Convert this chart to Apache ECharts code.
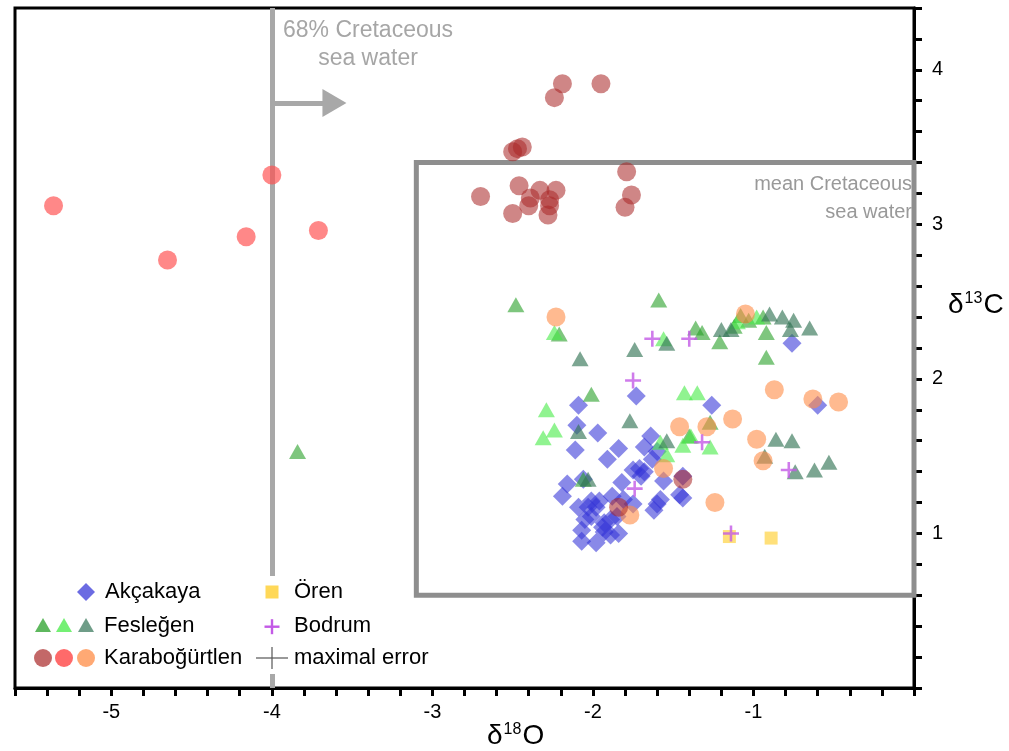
<!DOCTYPE html>
<html>
<head>
<meta charset="utf-8">
<title>d18O vs d13C</title>
<script src="https://cdn.jsdelivr.net/npm/echarts@6/dist/echarts.min.js"></script>
<style>
  html, body { margin: 0; padding: 0; background: #fff; }
  #chart { width: 1009px; height: 751px; }
</style>
</head>
<body>
<div id="chart"></div>
<script>
// δ18O, δ13C pairs
var akcakaya = [
  [-1.73, 1.89], [-2.09, 1.83], [-1.26, 1.83], [-0.76, 2.23], [-0.60, 1.83],
  [-2.10, 1.70], [-1.97, 1.65], [-2.11, 1.54], [-1.84, 1.55], [-1.91, 1.48],
  [-1.64, 1.63], [-1.68, 1.56], [-1.60, 1.53], [-1.63, 1.48], [-1.75, 1.41],
  [-1.71, 1.42], [-1.68, 1.40], [-1.70, 1.37], [-1.82, 1.33], [-1.56, 1.34],
  [-1.44, 1.37], [-2.16, 1.32], [-2.19, 1.24], [-2.06, 1.35], [-1.46, 1.25],
  [-1.44, 1.23], [-1.58, 1.22], [-1.62, 1.15], [-2.01, 1.21], [-1.96, 1.21],
  [-1.88, 1.24], [-1.98, 1.17], [-2.03, 1.17], [-1.81, 1.22], [-1.75, 1.19],
  [-2.05, 1.09], [-2.01, 1.11], [-1.89, 1.09], [-1.85, 1.11], [-2.07, 1.02],
  [-2.07, 0.95], [-1.98, 0.94], [-1.93, 1.01], [-1.89, 0.99], [-1.84, 1.00],
  [-1.93, 1.07], [-1.60, 1.19], [-2.09, 1.17], [-1.94, 1.04]
];
var feslegenA = [
  [-2.48, 2.48], [-1.59, 2.51], [-2.21, 2.29], [-2.01, 1.90], [-1.32, 2.30],
  [-1.36, 2.33], [-1.21, 2.24], [-1.12, 2.34], [-1.08, 2.41], [-1.03, 2.38],
  [-0.94, 2.40], [-0.92, 2.30], [-0.92, 2.14], [-1.27, 1.72], [-3.84, 1.53],
  [-2.06, 1.35], [-1.40, 1.63]
];
var feslegenB = [
  [-2.29, 1.80], [-2.24, 1.67], [-2.31, 1.62], [-1.43, 1.91], [-1.35, 1.91],
  [-2.24, 2.30], [-1.56, 2.26], [-1.54, 1.51], [-1.44, 1.57], [-1.39, 1.63],
  [-1.27, 1.56], [-1.58, 1.59], [-1.10, 2.37], [-0.98, 2.40]
];
var feslegenC = [
  [-2.08, 2.13], [-1.74, 2.19], [-1.54, 2.23], [-1.77, 1.73], [-1.20, 2.32],
  [-0.90, 2.42], [-0.82, 2.40], [-0.75, 2.38], [-0.77, 2.32], [-0.65, 2.33],
  [-2.09, 1.66], [-1.54, 1.60], [-2.03, 1.35], [-0.86, 1.61], [-0.76, 1.60],
  [-0.93, 1.50], [-0.74, 1.40], [-0.62, 1.41], [-0.53, 1.46], [-1.14, 2.32]
];
var karaDark = [
  [-2.19, 3.91], [-1.95, 3.91], [-2.24, 3.82], [-2.50, 3.47], [-2.44, 3.50],
  [-2.47, 3.49], [-1.79, 3.34], [-2.70, 3.18], [-2.46, 3.25], [-2.50, 3.07],
  [-2.33, 3.22], [-2.23, 3.22], [-2.39, 3.17], [-2.40, 3.12], [-2.27, 3.16],
  [-2.27, 3.12], [-2.28, 3.06], [-1.76, 3.19], [-1.80, 3.11], [-1.84, 1.17],
  [-1.44, 1.35]
];
var karaRed = [
  [-5.36, 3.12], [-4.65, 2.77], [-4.16, 2.92], [-4.00, 3.32], [-3.71, 2.96]
];
var karaOrange = [
  [-2.23, 2.40], [-1.05, 2.42], [-0.87, 1.93], [-0.63, 1.87], [-0.47, 1.85],
  [-1.46, 1.69], [-1.29, 1.69], [-1.13, 1.74], [-0.98, 1.61], [-0.94, 1.47],
  [-1.56, 1.42], [-1.24, 1.20], [-1.77, 1.12]
];
var bodrum = [
  [-1.63, 2.26], [-1.40, 2.26], [-1.75, 1.99], [-1.32, 1.59], [-0.78, 1.41],
  [-1.14, 1.00], [-1.74, 1.29]
];
var oren = [
  [-1.15, 0.98], [-0.89, 0.97]
];

// reference lines / box
var seaWater68 = -4;
var meanBoxX = [-3.1, 0];
var meanBoxY = [0.6, 3.4];
var arrowFrom = [-4, 3.785];
var arrowTo = [-3.61, 3.785];

var xTickLabels = ['-5', '-4', '-3', '-2', '-1'];
var yTickLabels = ['1', '2', '3', '4'];

var FONT = 'Arial, "Liberation Sans", sans-serif';
var plusPath = 'path://M4.2,0H5.8V4.2H10V5.8H5.8V10H4.2V5.8H0V4.2H4.2Z';

var chart = echarts.init(document.getElementById('chart'));

function scatter(name, data, symbol, size, color, z) {
  return {
    name: name,
    type: 'scatter',
    data: data,
    symbol: symbol,
    symbolSize: size,
    z: z,
    itemStyle: { color: color },
    emphasis: { disabled: true }
  };
}

var series = [
  scatter('Akçakaya', akcakaya, 'diamond', 19, 'rgba(50,50,215,0.72)', 3),
  scatter('Fesleğen 1', feslegenA, 'triangle', [17, 15], 'rgba(40,160,40,0.75)', 4),
  scatter('Fesleğen 2', feslegenB, 'triangle', [17, 15], 'rgba(70,235,70,0.75)', 4),
  scatter('Fesleğen 3', feslegenC, 'triangle', [17, 15], 'rgba(50,115,85,0.8)', 4),
  scatter('Karaboğürtlen 3', karaOrange, 'circle', 19, 'rgba(255,140,70,0.75)', 5),
  scatter('Karaboğürtlen 1', karaDark, 'circle', 19, 'rgba(170,40,40,0.7)', 5),
  scatter('Karaboğürtlen 2', karaRed, 'circle', 19, 'rgba(255,80,80,0.85)', 5),
  scatter('Ören', oren, 'rect', 13, 'rgba(255,212,70,0.9)', 6),
  scatter('Bodrum', bodrum, plusPath, 16, '#c35ae6', 7)
];

// gray reference line, arrow and the mean sea water box
series.push({
  type: 'line',
  data: [],
  z: 1,
  markLine: {
    silent: true,
    symbol: ['none', 'none'],
    label: { show: false },
    lineStyle: { color: '#a8a8a8', width: 5, type: 'solid' },
    data: [{ xAxis: seaWater68 }]
  },
  markArea: {
    silent: true,
    itemStyle: { color: 'rgba(0,0,0,0)', borderColor: '#8e8e8e', borderWidth: 5 },
    data: [[{ coord: [meanBoxX[0], meanBoxY[1]] }, { coord: [meanBoxX[1], meanBoxY[0]] }]]
  }
});
series.push({
  type: 'line',
  data: [],
  z: 1,
  markLine: {
    silent: true,
    symbol: ['none', 'triangle'],
    symbolSize: [28, 24],
    label: { show: false },
    lineStyle: { color: '#a8a8a8', width: 5, type: 'solid' },
    itemStyle: { color: '#a8a8a8' },
    data: [[{ coord: arrowFrom }, { coord: arrowTo }]]
  }
});

var legendFont = '22px ' + FONT;
var graphic = [
  // legend background: hides the -4 line behind the legend
  { type: 'rect', z: 100, shape: { x: 20, y: 576, width: 388, height: 98 }, style: { fill: '#fff' } },
  // Akçakaya
  { type: 'polygon', z: 101, shape: { points: [[86, 583], [95, 592], [86, 601], [77, 592]] }, style: { fill: 'rgba(50,50,215,0.72)' } },
  { type: 'text', z: 101, style: { text: 'Akçakaya', x: 105, y: 592, font: legendFont, fill: '#000', verticalAlign: 'middle' } },
  // Ören
  { type: 'rect', z: 101, shape: { x: 265.5, y: 585.5, width: 13, height: 13 }, style: { fill: 'rgba(255,212,70,0.9)' } },
  { type: 'text', z: 101, style: { text: 'Ören', x: 294, y: 592, font: legendFont, fill: '#000', verticalAlign: 'middle' } },
  // Fesleğen
  { type: 'polygon', z: 101, shape: { points: [[43, 618], [51, 632], [35, 632]] }, style: { fill: 'rgba(40,160,40,0.75)' } },
  { type: 'polygon', z: 101, shape: { points: [[64, 618], [72, 632], [56, 632]] }, style: { fill: 'rgba(70,235,70,0.75)' } },
  { type: 'polygon', z: 101, shape: { points: [[86, 618], [94, 632], [78, 632]] }, style: { fill: 'rgba(50,115,85,0.7)' } },
  { type: 'text', z: 101, style: { text: 'Fesleğen', x: 104, y: 626, font: legendFont, fill: '#000', verticalAlign: 'middle' } },
  // Bodrum
  { type: 'rect', z: 101, shape: { x: 264.5, y: 625.5, width: 15, height: 2.4 }, style: { fill: '#c35ae6' } },
  { type: 'rect', z: 101, shape: { x: 270.8, y: 619.2, width: 2.4, height: 15 }, style: { fill: '#c35ae6' } },
  { type: 'text', z: 101, style: { text: 'Bodrum', x: 294, y: 626, font: legendFont, fill: '#000', verticalAlign: 'middle' } },
  // Karaboğürtlen
  { type: 'circle', z: 101, shape: { cx: 43, cy: 658, r: 9 }, style: { fill: 'rgba(170,40,40,0.7)' } },
  { type: 'circle', z: 101, shape: { cx: 64, cy: 658, r: 9 }, style: { fill: 'rgba(255,80,80,0.85)' } },
  { type: 'circle', z: 101, shape: { cx: 86, cy: 658, r: 9 }, style: { fill: 'rgba(255,140,70,0.75)' } },
  { type: 'text', z: 101, style: { text: 'Karaboğürtlen', x: 104, y: 658, font: legendFont, fill: '#000', verticalAlign: 'middle' } },
  // maximal error
  { type: 'line', z: 101, shape: { x1: 256, y1: 658, x2: 288, y2: 658 }, style: { stroke: '#555', lineWidth: 1.2 } },
  { type: 'line', z: 101, shape: { x1: 272, y1: 647, x2: 272, y2: 669 }, style: { stroke: '#555', lineWidth: 1.2 } },
  { type: 'text', z: 101, style: { text: 'maximal error', x: 294, y: 658, font: legendFont, fill: '#000', verticalAlign: 'middle' } },
  // annotations
  { type: 'text', z: 50, style: { text: '68% Cretaceous\nsea water', x: 368, y: 17, font: '23px ' + FONT, fill: '#a6a6a6', align: 'center', lineHeight: 28 } },
  { type: 'text', z: 50, style: { text: 'mean Cretaceous\nsea water', x: 912, y: 170, font: '20px ' + FONT, fill: '#999', align: 'right', lineHeight: 28 } },
  // axis titles
  { type: 'text', z: 50, style: { text: 'δ{s|18}O', x: 487, y: 722, font: '28px ' + FONT, fill: '#000',
      rich: { s: { fontSize: 16, fontFamily: FONT, verticalAlign: 'top', padding: [0, 1, 12, 1] } } } },
  { type: 'text', z: 50, style: { text: 'δ{s|13}C', x: 948, y: 291, font: '28px ' + FONT, fill: '#000',
      rich: { s: { fontSize: 16, fontFamily: FONT, verticalAlign: 'top', padding: [0, 1, 12, 1] } } } }
];

var option = {
  animation: false,
  backgroundColor: '#fff',
  textStyle: { fontFamily: FONT },
  grid: {
    left: 15, right: 95, top: 8, bottom: 63,
    show: true, borderColor: '#000', borderWidth: 3, backgroundColor: 'transparent'
  },
  xAxis: {
    type: 'value',
    min: -5.6, max: 0, interval: 0.2,
    axisLine: { show: true, onZero: false, lineStyle: { color: '#000', width: 3 } },
    axisTick: { show: true, length: 8, lineStyle: { color: '#000', width: 3 } },
    axisLabel: {
      color: '#000', fontSize: 20, margin: 14,
      formatter: function (v) {
        var s = String(Math.round(v * 10) / 10);
        return xTickLabels.indexOf(s) >= 0 ? s : '';
      }
    },
    splitLine: { show: false }
  },
  yAxis: {
    type: 'value',
    position: 'right',
    min: 0, max: 4.4, interval: 0.2,
    axisLine: { show: true, onZero: false, lineStyle: { color: '#000', width: 3 } },
    axisTick: { show: true, length: 8, lineStyle: { color: '#000', width: 3 } },
    axisLabel: {
      color: '#000', fontSize: 20, margin: 18,
      formatter: function (v) {
        var s = String(Math.round(v * 10) / 10);
        return yTickLabels.indexOf(s) >= 0 ? s : '';
      }
    },
    splitLine: { show: false }
  },
  series: series,
  graphic: graphic
};

chart.setOption(option);
</script>
</body>
</html>
